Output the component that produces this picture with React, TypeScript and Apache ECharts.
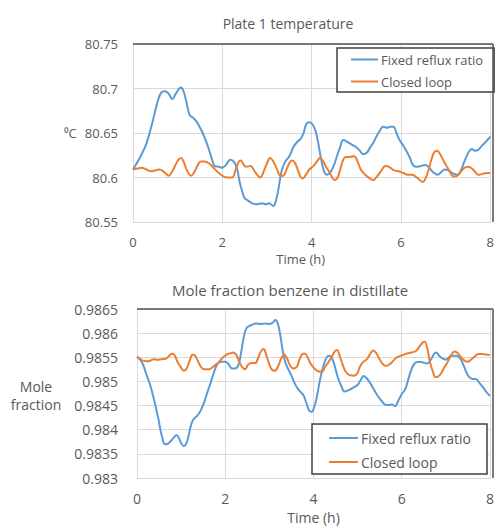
import React, { useEffect, useRef } from "react";
import * as echarts from "echarts";

const xTicks = [0, 2, 4, 6, 8];
const seriesNames = ["Fixed reflux ratio", "Closed loop"];

const plateFixed: number[][] = [[0,80.609],[0.15,80.622],[0.3,80.638],[0.45,80.665],[0.55,80.685],[0.64,80.696],[0.72,80.697],[0.8,80.694],[0.88,80.688],[0.97,80.695],[1.07,80.701],[1.13,80.697],[1.2,80.684],[1.27,80.670],[1.35,80.667],[1.42,80.663],[1.5,80.656],[1.56,80.650],[1.64,80.640],[1.71,80.630],[1.77,80.620],[1.83,80.613],[1.92,80.612],[2.0,80.611],[2.08,80.614],[2.18,80.620],[2.27,80.617],[2.33,80.610],[2.38,80.597],[2.43,80.587],[2.5,80.577],[2.58,80.574],[2.67,80.571],[2.78,80.570],[2.89,80.571],[2.97,80.570],[3.05,80.571],[3.14,80.568],[3.2,80.574],[3.26,80.588],[3.33,80.608],[3.4,80.617],[3.5,80.624],[3.6,80.635],[3.68,80.640],[3.76,80.644],[3.82,80.650],[3.88,80.660],[3.95,80.662],[4.03,80.659],[4.09,80.652],[4.15,80.638],[4.2,80.624],[4.27,80.608],[4.34,80.603],[4.42,80.606],[4.5,80.614],[4.56,80.623],[4.63,80.633],[4.71,80.642],[4.8,80.640],[4.9,80.637],[5.0,80.634],[5.08,80.630],[5.16,80.626],[5.24,80.628],[5.3,80.633],[5.38,80.639],[5.45,80.646],[5.52,80.652],[5.6,80.657],[5.68,80.656],[5.76,80.657],[5.83,80.657],[5.9,80.650],[5.97,80.642],[6.05,80.636],[6.12,80.630],[6.2,80.622],[6.27,80.614],[6.35,80.612],[6.45,80.613],[6.55,80.614],[6.63,80.611],[6.72,80.606],[6.82,80.603],[6.9,80.606],[6.98,80.609],[7.07,80.608],[7.15,80.605],[7.27,80.603],[7.35,80.609],[7.42,80.618],[7.5,80.627],[7.58,80.632],[7.66,80.630],[7.73,80.631],[7.8,80.635],[7.88,80.639],[7.95,80.643],[8.0,80.646]];

const plateClosed: number[][] = [[0,80.609],[0.1,80.610],[0.19,80.611],[0.3,80.609],[0.41,80.607],[0.5,80.608],[0.59,80.609],[0.7,80.606],[0.8,80.602],[0.88,80.607],[0.95,80.614],[1.02,80.620],[1.08,80.622],[1.14,80.617],[1.2,80.609],[1.3,80.602],[1.37,80.606],[1.44,80.613],[1.52,80.618],[1.6,80.618],[1.7,80.616],[1.8,80.611],[1.9,80.606],[2.0,80.602],[2.1,80.600],[2.22,80.600],[2.3,80.609],[2.36,80.617],[2.41,80.619],[2.47,80.615],[2.53,80.612],[2.63,80.613],[2.7,80.609],[2.78,80.603],[2.85,80.600],[2.92,80.606],[3.0,80.616],[3.07,80.622],[3.14,80.618],[3.22,80.610],[3.3,80.602],[3.36,80.602],[3.43,80.608],[3.5,80.616],[3.56,80.619],[3.62,80.617],[3.68,80.610],[3.75,80.601],[3.8,80.599],[3.87,80.603],[3.95,80.609],[4.04,80.613],[4.12,80.618],[4.19,80.622],[4.25,80.619],[4.32,80.612],[4.4,80.606],[4.46,80.600],[4.52,80.597],[4.58,80.600],[4.64,80.609],[4.7,80.619],[4.76,80.623],[4.85,80.623],[4.95,80.624],[5.02,80.619],[5.1,80.609],[5.2,80.603],[5.3,80.599],[5.38,80.597],[5.46,80.601],[5.55,80.607],[5.62,80.612],[5.68,80.613],[5.76,80.611],[5.85,80.608],[5.95,80.607],[6.05,80.605],[6.15,80.603],[6.25,80.603],[6.33,80.601],[6.4,80.598],[6.49,80.595],[6.55,80.599],[6.62,80.609],[6.68,80.620],[6.74,80.628],[6.81,80.630],[6.88,80.626],[6.95,80.619],[7.02,80.613],[7.1,80.606],[7.18,80.601],[7.26,80.602],[7.33,80.606],[7.4,80.610],[7.48,80.612],[7.56,80.611],[7.65,80.607],[7.73,80.603],[7.82,80.604],[7.92,80.605],[8.0,80.605]];

const moleFixed: number[][] = [[0,0.98551],[0.07,0.98545],[0.14,0.98534],[0.2,0.98518],[0.26,0.98503],[0.32,0.98486],[0.37,0.98468],[0.43,0.98445],[0.49,0.98420],[0.53,0.98400],[0.57,0.98385],[0.63,0.98370],[0.7,0.98371],[0.77,0.98377],[0.84,0.98384],[0.89,0.98389],[0.95,0.98383],[1.0,0.98372],[1.06,0.98366],[1.12,0.98372],[1.17,0.98388],[1.22,0.98408],[1.27,0.98420],[1.33,0.98426],[1.4,0.98433],[1.46,0.98443],[1.52,0.98456],[1.6,0.98479],[1.66,0.98495],[1.72,0.98512],[1.78,0.98528],[1.84,0.98538],[1.92,0.98541],[2.0,0.98541],[2.08,0.98535],[2.15,0.98527],[2.22,0.98527],[2.3,0.98535],[2.36,0.98560],[2.42,0.98592],[2.48,0.98610],[2.55,0.98615],[2.62,0.98618],[2.7,0.98620],[2.8,0.98619],[2.9,0.98620],[3.0,0.98619],[3.08,0.98622],[3.14,0.98627],[3.19,0.98620],[3.24,0.98600],[3.3,0.98565],[3.36,0.98540],[3.42,0.98527],[3.5,0.98512],[3.58,0.98495],[3.65,0.98484],[3.72,0.98477],[3.78,0.98470],[3.84,0.98455],[3.9,0.98440],[3.96,0.98437],[4.02,0.98448],[4.08,0.98470],[4.14,0.98500],[4.22,0.98531],[4.3,0.98550],[4.36,0.98553],[4.43,0.98546],[4.5,0.98525],[4.57,0.98503],[4.64,0.98489],[4.7,0.98479],[4.8,0.98482],[4.9,0.98487],[5.0,0.98493],[5.07,0.98503],[5.13,0.98511],[5.2,0.98507],[5.28,0.98497],[5.36,0.98485],[5.45,0.98471],[5.54,0.98460],[5.62,0.98452],[5.7,0.98451],[5.78,0.98452],[5.85,0.98449],[5.92,0.98460],[6.0,0.98474],[6.08,0.98484],[6.15,0.98505],[6.22,0.98525],[6.3,0.98538],[6.4,0.98541],[6.5,0.98539],[6.58,0.98537],[6.66,0.98545],[6.72,0.98555],[6.78,0.98560],[6.85,0.98553],[6.93,0.98547],[7.0,0.98545],[7.08,0.98551],[7.16,0.98553],[7.25,0.98553],[7.32,0.98548],[7.38,0.98538],[7.45,0.98522],[7.52,0.98510],[7.6,0.98505],[7.68,0.98505],[7.76,0.98497],[7.84,0.98488],[7.92,0.98478],[8.0,0.98470]];

const moleClosed: number[][] = [[0,0.98551],[0.07,0.98547],[0.14,0.98543],[0.22,0.98542],[0.3,0.98543],[0.38,0.98546],[0.47,0.98545],[0.56,0.98546],[0.65,0.98547],[0.73,0.98553],[0.8,0.98558],[0.86,0.98553],[0.92,0.98540],[0.99,0.98530],[1.06,0.98522],[1.12,0.98526],[1.19,0.98542],[1.26,0.98555],[1.32,0.98553],[1.38,0.98542],[1.45,0.98530],[1.52,0.98525],[1.62,0.98525],[1.72,0.98530],[1.82,0.98537],[1.92,0.98547],[2.02,0.98555],[2.1,0.98558],[2.18,0.98560],[2.25,0.98555],[2.31,0.98542],[2.38,0.98530],[2.45,0.98525],[2.52,0.98535],[2.6,0.98538],[2.68,0.98538],[2.75,0.98550],[2.82,0.98564],[2.87,0.98567],[2.93,0.98555],[2.99,0.98538],[3.05,0.98525],[3.12,0.98522],[3.2,0.98532],[3.27,0.98548],[3.34,0.98555],[3.4,0.98548],[3.47,0.98533],[3.54,0.98527],[3.62,0.98530],[3.68,0.98545],[3.75,0.98557],[3.8,0.98558],[3.87,0.98549],[3.94,0.98536],[4.02,0.98527],[4.1,0.98521],[4.19,0.98520],[4.26,0.98530],[4.34,0.98540],[4.42,0.98552],[4.48,0.98562],[4.53,0.98565],[4.6,0.98551],[4.66,0.98535],[4.73,0.98520],[4.82,0.98513],[4.92,0.98512],[4.99,0.98516],[5.05,0.98530],[5.12,0.98540],[5.2,0.98545],[5.28,0.98556],[5.35,0.98564],[5.41,0.98560],[5.48,0.98549],[5.56,0.98537],[5.64,0.98532],[5.7,0.98534],[5.78,0.98540],[5.86,0.98548],[5.94,0.98552],[6.04,0.98555],[6.12,0.98558],[6.22,0.98560],[6.32,0.98563],[6.4,0.98572],[6.47,0.98580],[6.52,0.98582],[6.58,0.98568],[6.64,0.98540],[6.7,0.98522],[6.76,0.98509],[6.82,0.98510],[6.9,0.98518],[6.97,0.98530],[7.04,0.98540],[7.12,0.98555],[7.2,0.98562],[7.28,0.98558],[7.36,0.98548],[7.44,0.98542],[7.5,0.98541],[7.58,0.98546],[7.66,0.98552],[7.74,0.98557],[7.82,0.98557],[7.9,0.98556],[8.0,0.98555]];

const plateTicks = [80.55, 80.6, 80.65, 80.7, 80.75];
const moleTicks = [0.983, 0.9835, 0.984, 0.9845, 0.985, 0.9855, 0.986, 0.9865];

const BLUE = "#5B9BD5";
const ORANGE = "#ED7D31";
const TEXT = "#595959";
const GRIDC = "#D9D9D9";
const FONT = "Open Sans";

export default function App() {
  const ref = useRef<HTMLDivElement>(null);
  useEffect(() => {
    document.body.style.margin = "0";
    if (!ref.current) return;
    const chart = echarts.init(ref.current, null, { renderer: "svg" });
    const g1 = { left: 133, top: 44, width: 360, height: 178 };
    const g2 = { left: 137, top: 309, width: 356, height: 169 };
    const xAxisBase = (gi: number, fs: number, pad: number[]) => ({
      type: "value",
      gridIndex: gi,
      min: xTicks[0],
      max: xTicks[xTicks.length - 1],
      interval: xTicks[1] - xTicks[0],
      axisLine: { show: true, lineStyle: { color: GRIDC, width: 1 } },
      axisTick: { show: false },
      axisLabel: { color: TEXT, fontSize: fs, fontFamily: FONT, margin: 13 },
      splitLine: { show: true, lineStyle: { color: GRIDC, width: 1 } },
      name: "Time (h)",
      nameLocation: "middle",
      nameGap: 30,
      nameTextStyle: { color: TEXT, fontSize: fs, fontFamily: FONT, padding: pad },
    });
    const option: any = {
      animation: false,
      title: [
        {
          text: "Plate 1 temperature",
          left: 283,
          top: 11,
          textAlign: "center",
          textStyle: { color: TEXT, fontSize: 14, fontWeight: "normal", fontFamily: FONT },
        },
        {
          text: "Mole fraction benzene in distillate",
          left: 285,
          top: 277,
          textAlign: "center",
          textStyle: { color: TEXT, fontSize: 15, fontWeight: "normal", fontFamily: FONT },
        },
      ],
      legend: [
        {
          data: seriesNames.map((n) => n),
          orient: "vertical",
          left: 337,
          top: 48,
          padding: [5, 11, 4, 13],
          itemGap: 9,
          itemWidth: 27,
          itemHeight: 14,
          itemStyle: { opacity: 0 },
          borderColor: "#404040",
          borderWidth: 1.5,
          backgroundColor: "#fff",
          textStyle: { color: TEXT, fontSize: 13, fontFamily: FONT, padding: [0, 0, 0, -2] },
          selectedMode: false,
        },
        {
          data: [seriesNames[0] + " ", seriesNames[1] + " "],
          formatter: (n: string) => n.trim(),
          orient: "vertical",
          left: 312,
          top: 424,
          padding: [7, 16, 5, 16],
          itemGap: 10,
          itemWidth: 29,
          itemHeight: 14,
          itemStyle: { opacity: 0 },
          borderColor: "#404040",
          borderWidth: 1.5,
          backgroundColor: "#fff",
          textStyle: { color: TEXT, fontSize: 14, fontFamily: FONT, padding: [0, 0, 0, -2] },
          selectedMode: false,
        },
      ],
      grid: [
        { ...g1, containLabel: false },
        { ...g2, containLabel: false },
      ],
      xAxis: [xAxisBase(0, 13, [0, 22, 0, 0]), xAxisBase(1, 14, [2, 0, 0, 0])],
      yAxis: [
        {
          type: "value",
          gridIndex: 0,
          min: plateTicks[0],
          max: plateTicks[plateTicks.length - 1],
          interval: 0.05,
          axisLine: { show: true, lineStyle: { color: GRIDC } },
          axisTick: { show: false },
          axisLabel: {
            color: TEXT,
            fontSize: 13,
            fontFamily: FONT,
            margin: 15,
            formatter: (v: number) => String(parseFloat(v.toFixed(2))),
          },
          splitLine: { lineStyle: { color: GRIDC } },
        },
        {
          type: "value",
          gridIndex: 1,
          min: moleTicks[0],
          max: moleTicks[moleTicks.length - 1],
          interval: 0.0005,
          axisLine: { show: true, lineStyle: { color: GRIDC } },
          axisTick: { show: false },
          axisLabel: {
            color: TEXT,
            fontSize: 14,
            fontFamily: FONT,
            margin: 19,
            formatter: (v: number) => String(parseFloat(v.toFixed(4))),
          },
          splitLine: { lineStyle: { color: GRIDC } },
        },
      ],
      series: [
        { name: seriesNames[0], type: "line", xAxisIndex: 0, yAxisIndex: 0, data: plateFixed, smooth: 0.4, symbol: "none", lineStyle: { color: BLUE, width: 2 }, itemStyle: { color: BLUE } },
        { name: seriesNames[1], type: "line", xAxisIndex: 0, yAxisIndex: 0, data: plateClosed, smooth: 0.4, symbol: "none", lineStyle: { color: ORANGE, width: 2 }, itemStyle: { color: ORANGE } },
        { name: seriesNames[0] + " ", type: "line", xAxisIndex: 1, yAxisIndex: 1, data: moleFixed, smooth: 0.4, symbol: "none", lineStyle: { color: BLUE, width: 2 }, itemStyle: { color: BLUE } },
        { name: seriesNames[1] + " ", type: "line", xAxisIndex: 1, yAxisIndex: 1, data: moleClosed, smooth: 0.4, symbol: "none", lineStyle: { color: ORANGE, width: 2 }, itemStyle: { color: ORANGE } },
      ],
      graphic: [
        { type: "line", z: 50, shape: { x1: g1.left, y1: g1.top, x2: g1.left + g1.width, y2: g1.top }, style: { stroke: "#505050", lineWidth: 1.5 } },
        { type: "line", z: 50, shape: { x1: g1.left + g1.width, y1: g1.top, x2: g1.left + g1.width, y2: g1.top + g1.height }, style: { stroke: "#505050", lineWidth: 1.5 } },
        { type: "line", z: 50, shape: { x1: g2.left, y1: g2.top, x2: g2.left + g2.width, y2: g2.top }, style: { stroke: "#505050", lineWidth: 1.5 } },
        { type: "line", z: 50, shape: { x1: g2.left + g2.width, y1: g2.top, x2: g2.left + g2.width, y2: g2.top + g2.height }, style: { stroke: "#505050", lineWidth: 1.5 } },
        { type: "text", left: 64, top: 126, style: { text: "⁰C", fill: TEXT, font: `13px "${FONT}"` } },
        { type: "text", x: 36, y: 386, style: { text: "Mole", fill: TEXT, font: `14px "${FONT}"`, textAlign: "center", textVerticalAlign: "middle" } },
        { type: "text", x: 36, y: 404, style: { text: "fraction", fill: TEXT, font: `14px "${FONT}"`, textAlign: "center", textVerticalAlign: "middle" } },
      ],
    };
    chart.setOption(option);
    return () => chart.dispose();
  }, []);
  return <div ref={ref} style={{ width: 497, height: 526 }} />;
}
